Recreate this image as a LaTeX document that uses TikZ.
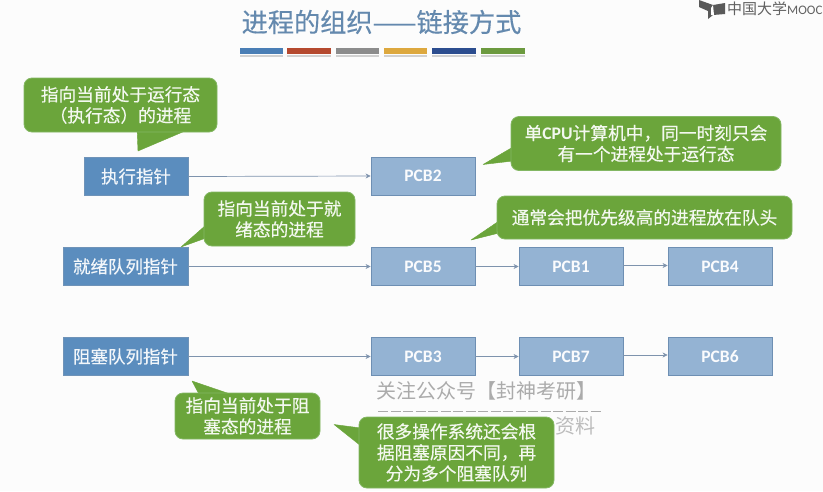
\documentclass[tikz,border=0pt]{standalone}
\usepackage{fontspec}
\setmainfont{Noto Sans CJK SC}
\newfontfamily\medfont[FakeBold=0.35]{Noto Sans CJK SC}
\newfontfamily\latfont{Carlito}
\usetikzlibrary{arrows.meta}
\definecolor{ptrfill}{HTML}{5B8DBE}
\definecolor{ptrline}{HTML}{6F93B8}
\definecolor{pcbfill}{HTML}{94B3D3}
\definecolor{pcbline}{HTML}{6E8FB3}
\definecolor{callfill}{HTML}{6BA53B}
\definecolor{callline}{HTML}{83B763}
\definecolor{titlecol}{HTML}{6489AE}
\definecolor{linkcol}{HTML}{7E93AD}
\definecolor{wmark}{HTML}{ABABAB}
\tikzset{
  x=1pt,y=-1pt,
  ptrbox/.style={draw=ptrline,fill=ptrfill,line width=0.8pt,inner sep=0pt,minimum height=38pt,text=white!92!ptrfill,font=\medfont\fontsize{17.5}{21}\selectfont},
  pcbbox/.style={draw=pcbline,fill=pcbfill,line width=0.8pt,inner sep=0pt,minimum width=104pt,minimum height=38pt,text=white!95!pcbfill,font=\latfont\bfseries\fontsize{17.5}{20}\selectfont},
  callbody/.style={draw=callline,fill=callfill,line width=0.8pt,rounded corners=8pt,inner sep=0pt,align=center,text=white!92!callfill,font=\medfont\fontsize{17.7}{21}\selectfont},
  calltail/.style={fill=callfill,draw=callfill,line width=0.4pt,line join=round},
  link/.style={draw=linkcol,line width=0.7pt,-{Stealth[length=5pt,width=5pt]}},
  bar/.style={line width=5.5pt}
}
\begin{document}
\begin{tikzpicture}
\useasboundingbox (0,0) rectangle (823,491);
\clip (0,0) rectangle (823,491);
\fill[white!99!black] (0,0) rectangle (823,491);

% title
\node[text=titlecol,font=\medfont\fontsize{26.2}{30}\selectfont,inner sep=0pt] (title) at (381.5,22) {进程的组织——链接方式};
\foreach \a/\b/\c in {240/283/4A7EB5,287/331/B5492F,336/379/8C8C8C,384/427/DDA83E,432/476/2C4D8F,481/525/6C9A3F}{
  \definecolor{barcol}{HTML}{\c}
  \draw[line width=2pt,black!18] (\a,55.5) -- (\b,55.5);
  \draw[bar,draw=barcol] (\a,51) -- (\b,51);
}

% logo
\fill[black!65] (699,0) -- (713,5) -- (725,3) -- (725,14) -- (713,15) -- (708,19) -- (708,11) -- (699,7) -- cycle;
\fill[white] (713,5) -- (714,15) -- (711,15) -- (711,8) -- cycle;
\node[anchor=west,inner sep=0pt,text=black!62,font=\fontsize{15}{18}\selectfont] (logo) at (727,9) {中国大学{\latfont\fontsize{13}{18}\selectfont MOOC}};

% watermark
\node[text=wmark,font=\fontsize{20}{26}\selectfont,inner sep=0pt] (wm) at (486,391) {关注公众号【封神考研】};
\draw[wmark,line width=0.8pt,dash pattern=on 10pt off 2.5pt] (378,411) -- (602,411);
\node[text=wmark!80,font=\fontsize{20}{24}\selectfont,inner sep=0pt] (wm2) at (575,426) {资料};

% pointer boxes
\node[ptrbox,minimum width=104pt] (run) at (136,176.5) {执行指针};
\node[ptrbox,minimum width=125pt] (ready) at (125.5,266.5) {就绪队列指针};
\node[ptrbox,minimum width=125pt] (block) at (125.5,356.5) {阻塞队列指针};

% PCB boxes
\node[pcbbox] (p2) at (423,176) {PCB2};
\node[pcbbox] (p5) at (423,266.5) {PCB5};
\node[pcbbox] (p1) at (571,266.5) {PCB1};
\node[pcbbox] (p4) at (720,266.5) {PCB4};
\node[pcbbox] (p3) at (423,356.5) {PCB3};
\node[pcbbox] (p7) at (571,356.5) {PCB7};
\node[pcbbox] (p6) at (720,356.5) {PCB6};

% connectors
\draw[link] (run.east) -- (p2.west);
\draw[link] (ready.east) -- (p5.west);
\draw[link] (p5.east) -- (p1.west);
\draw[link] ([yshift=1pt]p1.east) -- ([yshift=1pt]p4.west);
\draw[link] (block.east) -- (p3.west);
\draw[link] (p3.east) -- (p7.west);
\draw[link] ([yshift=1.5pt]p7.east) -- ([yshift=1.5pt]p6.west);

% callouts
\fill[calltail] (137,128) -- (138,151) -- (185,131) -- cycle;
\node[callbody,minimum width=193pt,minimum height=54pt] (c1) at (120.5,105) {指向当前处于运行态\\（执行态）的进程};

\fill[calltail] (206,225) -- (181,247) -- (206,238) -- cycle;
\node[callbody,minimum width=151pt,minimum height=54pt] (c2) at (279.5,219) {指向当前处于就\\绪态的进程};

\fill[calltail] (513,147) -- (483,164.5) -- (513,161) -- cycle;
\node[callbody,minimum width=270pt,minimum height=54pt] (c3) at (646,143.5) {单{\latfont\bfseries CPU}计算机中，同一时刻只会\\有一个进程处于运行态};

\fill[calltail] (499,221) -- (471,240) -- (499,233) -- cycle;
\node[callbody,minimum width=295pt,minimum height=43pt] (c4) at (644.5,217.5) {通常会把优先级高的进程放在队头};

\fill[calltail] (200,396) -- (192,381) -- (236,396) -- cycle;
\node[callbody,minimum width=145pt,minimum height=46pt] (c5) at (247.5,416) {指向当前处于阻\\塞态的进程};

\fill[calltail] (361,428) -- (334,424.5) -- (361,446) -- cycle;
\node[callbody,minimum width=195pt,minimum height=71pt] (c6) at (456.5,452.5) {很多操作系统还会根\\据阻塞原因不同，再\\分为多个阻塞队列};
\end{tikzpicture}
\end{document}
